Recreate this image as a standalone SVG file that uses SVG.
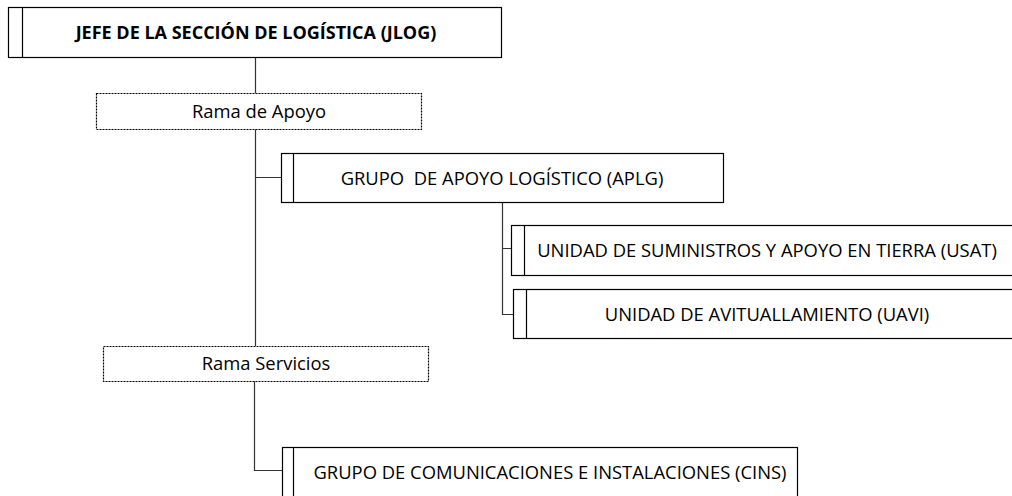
<svg xmlns="http://www.w3.org/2000/svg" width="1012" height="496" viewBox="0 0 1012 496">
<style>
.box{fill:#fff;stroke:#000;stroke-width:1.2}
.dot{fill:#fff;stroke:#000;stroke-width:1.2;stroke-dasharray:2 1}
.bar{stroke:#000;stroke-width:1.2}
.con{fill:none;stroke:#333;stroke-width:1.2}
text{font-family:"Open Sans","Liberation Sans",sans-serif;font-size:18.4px;fill:#000;text-anchor:middle;white-space:pre}
.b{font-weight:bold;font-size:18px}
</style>
<rect width="1012" height="496" fill="#fff"/>
<g id="connectors">
<path class="con" d="M255.5 57V93M255.5 129V346M255.5 177.5H281"/>
<path class="con" d="M254.5 381V470.5H282"/>
<path class="con" d="M502.5 202V314.5H513M502.5 248.5H511"/>
</g>
<g id="jlog">
<rect class="box" x="8.5" y="7.5" width="493" height="50"/>
<line class="bar" x1="22.5" y1="7.5" x2="22.5" y2="57.5"/>
<text class="b" x="256" y="39">JEFE DE LA SECCIÓN DE LOGÍSTICA (JLOG)</text>
</g>
<g id="rama-apoyo">
<rect class="dot" x="96.5" y="93.5" width="325" height="36"/>
<text x="259" y="118">Rama de Apoyo</text>
</g>
<g id="aplg">
<rect class="box" x="281.5" y="153.5" width="442" height="49"/>
<line class="bar" x1="293.5" y1="153.5" x2="293.5" y2="202.5"/>
<text x="502" y="185">GRUPO  DE APOYO LOGÍSTICO (APLG)</text>
</g>
<g id="usat">
<rect class="box" x="511.5" y="225.5" width="520" height="50"/>
<line class="bar" x1="524.5" y1="225.5" x2="524.5" y2="275.5"/>
<text x="767" y="257">UNIDAD DE SUMINISTROS Y APOYO EN TIERRA (USAT)</text>
</g>
<g id="uavi">
<rect class="box" x="513.5" y="289.5" width="520" height="49"/>
<line class="bar" x1="526.5" y1="289.5" x2="526.5" y2="338.5"/>
<text x="767" y="321">UNIDAD DE AVITUALLAMIENTO (UAVI)</text>
</g>
<g id="rama-servicios">
<rect class="dot" x="103.5" y="346.5" width="325" height="35"/>
<text x="266" y="370">Rama Servicios</text>
</g>
<g id="cins">
<rect class="box" x="282.5" y="447.5" width="515" height="60"/>
<line class="bar" x1="293.5" y1="447.5" x2="293.5" y2="507"/>
<text x="550" y="479">GRUPO DE COMUNICACIONES E INSTALACIONES (CINS)</text>
</g>
</svg>
